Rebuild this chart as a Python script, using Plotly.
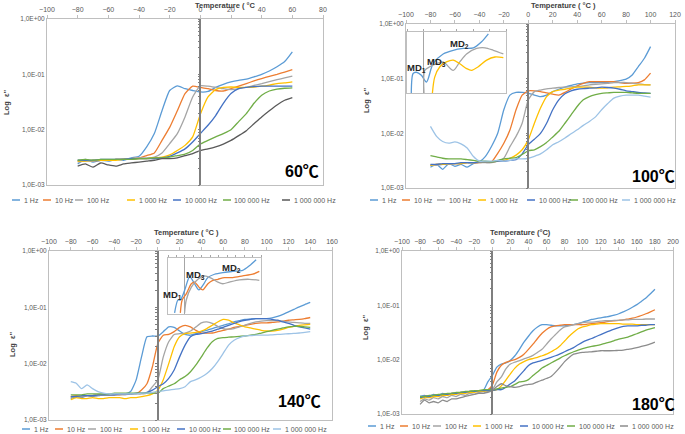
import plotly.graph_objects as go

W, H = 685, 434

FREQS = ["1 Hz", "10 Hz", "100 Hz", "1 000 Hz", "10 000 Hz", "100 000 Hz", "1 000 000 Hz"]
YTICK_VALS = [1, 0.1, 0.01, 0.001]
YTICK_TEXT = ["1,0E+00", "1,0E-01", "1,0E-02", "1,0E-03"]

# ---------------- 60 °C ----------------
T60 = list(range(-80, 65, 5))
p60_1 = [0.0024,0.0029,0.0026,0.0028,0.0027,0.0029,0.0028,0.0031,0.0033,0.0049,0.0085,0.022,0.051,0.062,0.055,0.051,0.048,0.049,0.058,0.066,0.073,0.078,0.082,0.09,0.1,0.115,0.137,0.17,0.255]
p60_10 = [0.0027,0.0028,0.0027,0.0028,0.0028,0.0029,0.0029,0.003,0.0031,0.0034,0.0038,0.0064,0.011,0.022,0.045,0.061,0.058,0.055,0.051,0.05,0.055,0.061,0.068,0.076,0.084,0.092,0.1,0.11,0.122]
p60_100 = [0.0026,0.0027,0.0027,0.0028,0.0028,0.0029,0.003,0.003,0.0031,0.0031,0.0032,0.0038,0.0056,0.0085,0.017,0.039,0.062,0.061,0.058,0.055,0.053,0.055,0.058,0.063,0.068,0.074,0.08,0.086,0.093]
p60_1k = [0.0027,0.0027,0.0028,0.0028,0.0028,0.0028,0.0029,0.0029,0.003,0.003,0.0031,0.0032,0.0035,0.0042,0.0052,0.0074,0.019,0.039,0.053,0.058,0.059,0.058,0.058,0.059,0.061,0.064,0.068,0.07,0.073]
p60_10k = [0.0028,0.0028,0.0028,0.0029,0.0029,0.0029,0.0029,0.003,0.003,0.003,0.003,0.0031,0.0033,0.0038,0.0045,0.006,0.0085,0.012,0.018,0.03,0.045,0.055,0.058,0.06,0.061,0.061,0.061,0.061,0.061]
p60_100k = [0.0028,0.0029,0.0028,0.0029,0.0029,0.0029,0.0029,0.0029,0.003,0.003,0.0031,0.0031,0.0032,0.0034,0.0036,0.0042,0.0055,0.0064,0.0074,0.0085,0.01,0.014,0.0195,0.03,0.042,0.05,0.054,0.056,0.057]
p60_1M = [0.0022,0.0024,0.0021,0.0025,0.0023,0.0022,0.0024,0.0025,0.0026,0.0027,0.0028,0.003,0.003,0.0031,0.0034,0.0037,0.0042,0.0045,0.0049,0.0055,0.0064,0.0078,0.0096,0.0128,0.017,0.022,0.028,0.034,0.038]

# ---------------- 100 °C ----------------
T100 = list(range(-80, 105, 5))
p100_1 = [0.0024,0.0027,0.0022,0.0028,0.0025,0.0027,0.0024,0.0028,0.003,0.0038,0.0058,0.01,0.027,0.05,0.056,0.056,0.054,0.05,0.047,0.05,0.058,0.064,0.07,0.075,0.08,0.083,0.085,0.085,0.085,0.086,0.088,0.092,0.098,0.117,0.166,0.236,0.385]
p100_10 = [0.0026,0.0027,0.0027,0.0028,0.0028,0.0028,0.0029,0.0029,0.0029,0.003,0.003,0.0043,0.0066,0.0115,0.027,0.05,0.06,0.06,0.058,0.055,0.052,0.05,0.056,0.065,0.074,0.082,0.088,0.088,0.088,0.088,0.088,0.085,0.082,0.083,0.085,0.095,0.126]
p100_100 = [0.0026,0.0026,0.0027,0.0027,0.0028,0.0028,0.0029,0.0029,0.0029,0.0029,0.0029,0.0031,0.0035,0.0057,0.0088,0.0153,0.041,0.058,0.062,0.065,0.067,0.069,0.07,0.071,0.072,0.074,0.077,0.079,0.08,0.082,0.085,0.085,0.085,0.083,0.08,0.078,0.077]
p100_1k = [0.0026,0.0027,0.0027,0.0028,0.0028,0.0028,0.0029,0.0029,0.003,0.003,0.003,0.0031,0.0032,0.0035,0.004,0.005,0.0076,0.0153,0.029,0.047,0.058,0.062,0.064,0.067,0.07,0.07,0.07,0.068,0.067,0.068,0.07,0.071,0.072,0.074,0.077,0.077,0.077]
p100_10k = [0.0027,0.0027,0.0028,0.0028,0.0028,0.0029,0.0029,0.0029,0.003,0.003,0.003,0.0031,0.0031,0.0032,0.0033,0.0042,0.0062,0.0078,0.01,0.0153,0.027,0.041,0.053,0.06,0.064,0.066,0.067,0.068,0.07,0.069,0.067,0.064,0.06,0.058,0.056,0.055,0.054]
p100_100k = [0.0039,0.0037,0.0035,0.0034,0.0034,0.0034,0.0033,0.0032,0.0031,0.0031,0.003,0.0032,0.0034,0.0035,0.0036,0.0041,0.0048,0.005,0.0057,0.0068,0.0086,0.0109,0.0153,0.0218,0.031,0.041,0.047,0.051,0.054,0.055,0.056,0.056,0.056,0.055,0.054,0.054,0.054]
p100_1M = [0.0134,0.0088,0.0071,0.0066,0.007,0.0064,0.0054,0.0038,0.0031,0.0031,0.0031,0.0032,0.0031,0.0032,0.0034,0.0034,0.0035,0.0038,0.0042,0.005,0.0062,0.007,0.0082,0.0098,0.0116,0.014,0.0165,0.02,0.027,0.035,0.044,0.048,0.05,0.05,0.05,0.048,0.046]

# ---------------- 140 °C ----------------
T140 = list(range(-80, 145, 5))
p140_1 = [0.0024,0.0026,0.0025,0.0027,0.0026,0.0027,0.0028,0.0028,0.0028,0.0029,0.0029,0.0032,0.0051,0.0132,0.030,0.031,0.031,0.037,0.045,0.044,0.038,0.033,0.032,0.034,0.037,0.039,0.042,0.045,0.048,0.051,0.055,0.058,0.061,0.062,0.063,0.063,0.063,0.065,0.069,0.075,0.083,0.092,0.102,0.112,0.122]
p140_10 = [0.0026,0.0027,0.0026,0.0027,0.0027,0.0028,0.0028,0.0028,0.0028,0.0028,0.0029,0.0029,0.0029,0.0034,0.0044,0.0088,0.0228,0.032,0.033,0.037,0.044,0.048,0.045,0.039,0.035,0.035,0.035,0.037,0.039,0.041,0.044,0.046,0.048,0.05,0.052,0.053,0.053,0.054,0.055,0.057,0.059,0.06,0.061,0.063,0.066]
p140_100 = [0.0025,0.0026,0.0026,0.0027,0.0027,0.0027,0.0028,0.0028,0.0028,0.0028,0.0028,0.0029,0.0029,0.0029,0.003,0.0039,0.0052,0.0132,0.0245,0.033,0.034,0.035,0.038,0.045,0.053,0.055,0.052,0.046,0.042,0.041,0.042,0.045,0.048,0.052,0.055,0.057,0.058,0.058,0.058,0.057,0.055,0.054,0.053,0.052,0.052]
p140_1k = [0.0023,0.0025,0.0024,0.0024,0.0025,0.0024,0.0024,0.0025,0.0025,0.0025,0.0024,0.0025,0.0025,0.0026,0.0027,0.0029,0.0034,0.0052,0.01,0.02,0.03,0.034,0.035,0.036,0.038,0.042,0.048,0.055,0.061,0.059,0.053,0.049,0.045,0.043,0.041,0.039,0.038,0.038,0.039,0.041,0.044,0.046,0.048,0.049,0.05]
p140_10k = [0.0026,0.0026,0.0027,0.0027,0.0027,0.0028,0.0028,0.0028,0.0028,0.0029,0.0029,0.0029,0.003,0.003,0.0031,0.0034,0.0039,0.0044,0.0055,0.0077,0.0132,0.0213,0.03,0.033,0.034,0.036,0.038,0.041,0.044,0.048,0.052,0.056,0.059,0.061,0.063,0.063,0.063,0.061,0.059,0.055,0.052,0.048,0.045,0.043,0.041]
p140_100k = [0.0028,0.0028,0.0028,0.0029,0.0029,0.0029,0.0029,0.0029,0.003,0.003,0.003,0.003,0.003,0.003,0.003,0.003,0.003,0.0036,0.004,0.0044,0.0052,0.0059,0.0072,0.0095,0.0132,0.0186,0.0245,0.028,0.029,0.0295,0.03,0.0305,0.031,0.032,0.033,0.035,0.037,0.039,0.041,0.043,0.045,0.046,0.046,0.045,0.044]
p140_1M = [0.0048,0.0045,0.0036,0.0042,0.0036,0.0032,0.003,0.0029,0.0029,0.0029,0.0029,0.0029,0.0029,0.003,0.003,0.0031,0.0032,0.0033,0.0034,0.0035,0.0036,0.0039,0.0048,0.0052,0.0058,0.0067,0.0082,0.0109,0.0152,0.0213,0.026,0.029,0.031,0.0315,0.032,0.032,0.032,0.0325,0.033,0.0335,0.034,0.0345,0.035,0.036,0.037]

# ---------------- 180 °C ----------------
T180 = list(range(-80, 185, 5))
p180_1 = [0.0021,0.0022,0.0021,0.0023,0.0022,0.0024,0.0023,0.0024,0.0024,0.0025,0.0025,0.0026,0.0026,0.0027,0.0027,0.0039,0.0051,0.0073,0.0083,0.0087,0.0097,0.0118,0.0155,0.021,0.027,0.034,0.04,0.044,0.044,0.043,0.042,0.042,0.042,0.043,0.044,0.046,0.049,0.052,0.055,0.057,0.059,0.061,0.063,0.066,0.07,0.076,0.083,0.092,0.103,0.118,0.136,0.163,0.198]
p180_10 = [0.002,0.0021,0.0021,0.0022,0.0022,0.0023,0.0023,0.0024,0.0024,0.0025,0.0025,0.0026,0.0026,0.0027,0.0027,0.0028,0.0034,0.0059,0.0079,0.0089,0.0095,0.01,0.011,0.0126,0.0155,0.0193,0.0245,0.0306,0.036,0.04,0.042,0.043,0.044,0.044,0.044,0.044,0.044,0.045,0.046,0.047,0.048,0.049,0.051,0.052,0.053,0.054,0.056,0.058,0.061,0.065,0.07,0.076,0.083]
p180_100 = [0.0017,0.0019,0.0018,0.002,0.0019,0.0021,0.002,0.0022,0.0021,0.0023,0.0022,0.0024,0.0023,0.0025,0.0024,0.0026,0.0028,0.0039,0.0048,0.0068,0.0083,0.009,0.0096,0.0103,0.011,0.012,0.0136,0.0155,0.0193,0.024,0.029,0.035,0.04,0.042,0.044,0.046,0.048,0.049,0.049,0.05,0.051,0.052,0.052,0.053,0.053,0.054,0.054,0.055,0.055,0.055,0.056,0.056,0.056]
p180_1k = [0.0019,0.002,0.002,0.0021,0.0021,0.0022,0.0022,0.0023,0.0023,0.0024,0.0024,0.0025,0.0025,0.0026,0.0026,0.0027,0.0027,0.0028,0.0033,0.0042,0.0055,0.007,0.0083,0.0092,0.01,0.0105,0.011,0.0118,0.0126,0.014,0.0155,0.018,0.022,0.027,0.032,0.037,0.04,0.042,0.044,0.045,0.046,0.046,0.046,0.046,0.046,0.045,0.045,0.045,0.044,0.044,0.044,0.044,0.044]
p180_10k = [0.002,0.0021,0.0021,0.0022,0.0022,0.0023,0.0023,0.0024,0.0024,0.0025,0.0025,0.0026,0.0026,0.0027,0.0027,0.0027,0.0027,0.0028,0.0028,0.0031,0.0036,0.0041,0.0051,0.0063,0.0078,0.0087,0.0092,0.0097,0.0103,0.011,0.0118,0.0128,0.014,0.0153,0.0167,0.0188,0.021,0.0228,0.0245,0.0267,0.029,0.0315,0.034,0.0365,0.039,0.041,0.042,0.042,0.042,0.043,0.043,0.044,0.044]
p180_100k = [0.0021,0.0021,0.0022,0.0022,0.0023,0.0023,0.0024,0.0024,0.0025,0.0025,0.0026,0.0026,0.0027,0.0027,0.0028,0.0028,0.0028,0.0029,0.003,0.0031,0.0032,0.0035,0.0039,0.004,0.0043,0.0051,0.0059,0.007,0.0078,0.0087,0.0096,0.0107,0.0118,0.0129,0.014,0.015,0.016,0.0168,0.0175,0.0182,0.019,0.02,0.021,0.0225,0.024,0.025,0.026,0.028,0.03,0.0325,0.035,0.037,0.039]
p180_1M = [0.0015,0.0018,0.0016,0.0017,0.0016,0.0018,0.0017,0.0019,0.0019,0.002,0.0021,0.0022,0.0023,0.0024,0.0024,0.0025,0.0027,0.0032,0.0036,0.0033,0.0032,0.0031,0.0032,0.0034,0.0035,0.0036,0.0039,0.0042,0.0045,0.0049,0.0059,0.0073,0.0092,0.011,0.0126,0.0132,0.0136,0.0138,0.014,0.0143,0.0146,0.0146,0.0146,0.0147,0.0148,0.015,0.0155,0.016,0.0167,0.0175,0.0184,0.0195,0.021]

# ---------------- insets (zoomed sketches, arbitrary linear units) ----------------
insA_1_x = [-7.4,-6.3,-4.3,-1.3,1.8,5.8,11.9,18.0,24.1,30.2,35.2,39.3]
insA_1_y = [0.0,0.32,0.34,0.29,0.18,0.48,0.64,0.70,0.73,0.74,0.84,0.97]
insA_100_x = [0.3,0.75,3.8,7.9,11.9,18.0,22.0,26.1,32.2,37.3,42.3,48.4]
insA_100_y = [0.0,0.37,0.43,0.48,0.51,0.37,0.51,0.64,0.73,0.74,0.70,0.64]
insA_1k_x = [5.4,6.8,9.9,13.9,18.0,22.0,26.1,29.1,33.2,38.3,43.3,48.4]
insA_1k_y = [0.0,0.26,0.43,0.51,0.54,0.48,0.40,0.37,0.43,0.54,0.59,0.58]

insB_1_x = [-6.1,-4.1,-2.7,-0.2,2.4,3.2,5.7,8.3,10.6,13.6,17.5,22.4,28.3,34.2,38.1,42.1]
insB_1_y = [0.02,0.25,0.25,0.42,0.65,0.66,0.54,0.43,0.51,0.65,0.71,0.74,0.76,0.78,0.86,0.97]
insB_10_x = [-2.7,-1.6,0.8,3.8,5.7,8.3,10.6,13.6,16.5,19.5,23.4,28.3,34.2,40.1,44.0]
insB_10_y = [0.02,0.25,0.36,0.54,0.57,0.48,0.43,0.54,0.60,0.62,0.65,0.65,0.68,0.71,0.76]
insB_100_x = [-0.2,0.8,3.8,7.7,11.6,15.5,19.5,22.4,26.3,32.2,38.1,44.0]
insB_100_y = [0.02,0.25,0.48,0.62,0.68,0.64,0.57,0.54,0.57,0.61,0.62,0.60]

C1, C10, C100, C1K, C10K, C100K = "#5B9BD5", "#ED7D31", "#A5A5A5", "#FFC000", "#4472C4", "#70AD47"

panels = [
    dict(T=T60, series=[p60_1, p60_10, p60_100, p60_1k, p60_10k, p60_100k, p60_1M],
         c1m="#595959", box=(47, 19, 323, 185), xr=(-100, 80),
         title="Temperature ( °C", title_xy=(226, 5), tag="60℃", tag_xy=(302, 171),
         ytitle_xy=(6, 103), leg_y=200, leg_x=[12, 43, 75, 127, 173, 223, 282]),
    dict(T=T100, series=[p100_1, p100_10, p100_100, p100_1k, p100_10k, p100_100k, p100_1M],
         c1m="#9DC3E6", box=(406, 24, 675, 188), xr=(-100, 120),
         title="Temperature ( °C )", title_xy=(563, 5), tag="100℃", tag_xy=(653, 176),
         ytitle_xy=(366, 100), leg_y=200, leg_x=[370, 402, 437, 478, 527, 570, 622]),
    dict(T=T140, series=[p140_1, p140_10, p140_100, p140_1k, p140_10k, p140_100k, p140_1M],
         c1m="#9DC3E6", box=(49, 251, 332, 420), xr=(-100, 160),
         title="Temperature ( °C )", title_xy=(187, 232), tag="140℃", tag_xy=(299, 401),
         ytitle_xy=(12, 345), leg_y=429, leg_x=[22, 55, 88, 130, 177, 223, 273]),
    dict(T=T180, series=[p180_1, p180_10, p180_100, p180_1k, p180_10k, p180_100k, p180_1M],
         c1m="#8C8C8C", box=(402, 251, 673, 414), xr=(-100, 200),
         title="Temperature (°C)", title_xy=(520, 233), tag="180℃", tag_xy=(653, 404),
         ytitle_xy=(365, 328), leg_y=426, leg_x=[368, 400, 433, 473, 520, 567, 620]),
]


def fx(x):
    return x / W


def fy(y):
    return 1 - y / H


FONT = "Liberation Sans, Arial, sans-serif"
TICKC = "#595959"
fig = go.Figure()
layout = {}
annotations = []
shapes = []
minor_vals = [m * 10 ** e for e in (-3, -2, -1) for m in range(1, 10)] + [1]


def note(x, y, text, size, color="#404040", xanchor="center", angle=0, family=FONT):
    return dict(x=fx(x), y=fy(y), xref="paper", yref="paper", text=text, showarrow=False,
                xanchor=xanchor, yanchor="middle", textangle=angle,
                font=dict(size=size, color=color, family=family))


for i, p in enumerate(panels, start=1):
    sfx = "" if i == 1 else str(i)
    xa, ya = "x" + sfx, "y" + sfx
    colors = [C1, C10, C100, C1K, C10K, C100K, p["c1m"]]
    for name, vals, c in zip(FREQS, p["series"], colors):
        fig.add_trace(go.Scatter(x=p["T"], y=vals, mode="lines", name=name, showlegend=False,
                                 line=dict(color=c, width=1.3, shape="spline", smoothing=0.5),
                                 xaxis=xa, yaxis=ya))
    x0, y0, x1, y1 = p["box"]
    xr0, xr1 = p["xr"]
    layout["xaxis" + sfx] = dict(domain=[fx(x0), fx(x1)], anchor=ya, side="top", range=[xr0, xr1],
                                 tickvals=list(range(xr0, xr1 + 1, 20)), ticks="outside", ticklen=3,
                                 tickcolor="#BFBFBF", showline=True, mirror=True, linecolor="#BFBFBF",
                                 showgrid=False, zeroline=False, automargin=False,
                                 tickfont=dict(size=7, color=TICKC, family=FONT))
    layout["yaxis" + sfx] = dict(domain=[fy(y1), fy(y0)], anchor=xa, type="log", range=[-3, 0],
                                 tickvals=YTICK_VALS, ticktext=YTICK_TEXT, ticks="", showline=True,
                                 mirror=True, linecolor="#BFBFBF", showgrid=False, zeroline=False,
                                 automargin=False, tickfont=dict(size=6.5, color=TICKC, family=FONT))
    # vertical axis crossing at 0 °C
    j = 6 + i
    zero_px = x0 + (0 - xr0) / (xr1 - xr0) * (x1 - x0)
    layout["yaxis" + str(j)] = dict(overlaying=ya, anchor="free", position=fx(zero_px), type="log",
                                    range=[-3, 0], showline=True, linecolor="#7F7F7F", linewidth=1.5,
                                    ticks="outside", ticklen=2, tickcolor="#7F7F7F", tickvals=minor_vals,
                                    showticklabels=False, showgrid=False, zeroline=False, automargin=False)
    fig.add_trace(go.Scatter(x=[None], y=[None], xaxis=xa, yaxis="y" + str(j), showlegend=False,
                             hoverinfo="skip"))
    # texts
    annotations.append(note(*p["title_xy"], "<b>%s</b>" % p["title"], 7.5))
    annotations.append(note(*p["tag_xy"], "<b>%s</b>" % p["tag"], 16, color="#000000",
                            family="Liberation Sans, Noto Sans CJK SC"))
    annotations.append(note(*p["ytitle_xy"], "<b>Log  ε''</b>", 7.5, angle=-90))
    # legend row
    for name, c, lx in zip(FREQS, colors, p["leg_x"]):
        shapes.append(dict(type="line", xref="paper", yref="paper", x0=fx(lx), x1=fx(lx + 8),
                           y0=fy(p["leg_y"]), y1=fy(p["leg_y"]), line=dict(color=c, width=1.5)))
        annotations.append(note(lx + 9.5, p["leg_y"], name, 7, color=TICKC, xanchor="left"))

# insets
insets = [
    dict(k=5, box=(407, 32, 506, 93), xr=(-10, 50), dt=10,
         curves=[(insA_1_x, insA_1_y, C1), (insA_100_x, insA_100_y, C100), (insA_1k_x, insA_1k_y, C1K)],
         labels=[("MD<sub>1</sub>", 416, 68), ("MD<sub>3</sub>", 436, 62), ("MD<sub>2</sub>", 460, 44)]),
    dict(k=6, box=(168, 258, 261, 314), xr=(-10, 45), dt=5,
         curves=[(insB_1_x, insB_1_y, C1), (insB_10_x, insB_10_y, C10), (insB_100_x, insB_100_y, C100)],
         labels=[("MD<sub>1</sub>", 172, 295), ("MD<sub>3</sub>", 196, 275), ("MD<sub>2</sub>", 231, 268)]),
]
for ins in insets:
    k = str(ins["k"])
    x0, y0, x1, y1 = ins["box"]
    for xs, ys, c in ins["curves"]:
        fig.add_trace(go.Scatter(x=xs, y=ys, mode="lines", showlegend=False,
                                 line=dict(color=c, width=1.3, shape="spline", smoothing=0.8),
                                 xaxis="x" + k, yaxis="y" + k))
    layout["xaxis" + k] = dict(domain=[fx(x0), fx(x1)], anchor="y" + k, side="top", range=list(ins["xr"]),
                               tickvals=list(range(ins["xr"][0], ins["xr"][1] + 1, ins["dt"])),
                               ticks="outside", ticklen=2, tickcolor="#A6A6A6", showticklabels=False,
                               showline=True, mirror=True, linecolor="#BFBFBF", showgrid=False,
                               zeroline=True, zerolinecolor="#A6A6A6", zerolinewidth=1, automargin=False)
    layout["yaxis" + k] = dict(domain=[fy(y1), fy(y0)], anchor="x" + k, range=[0, 1], showticklabels=False,
                               showline=True, mirror=True, linecolor="#BFBFBF", showgrid=False,
                               zeroline=False, ticks="", automargin=False)
    for txt, lx, ly in ins["labels"]:
        annotations.append(note(lx, ly, "<b>%s</b>" % txt, 9.5, color="#262626"))

fig.update_layout(width=W, height=H, margin=dict(l=0, r=0, t=0, b=0, autoexpand=False),
                  plot_bgcolor="white", paper_bgcolor="white", showlegend=False,
                  annotations=annotations, shapes=shapes, font=dict(family=FONT), **layout)
fig.write_html("out.html", config={"displayModeBar": False},
               post_script="document.body.style.margin='0px';document.body.style.overflow='hidden';")
